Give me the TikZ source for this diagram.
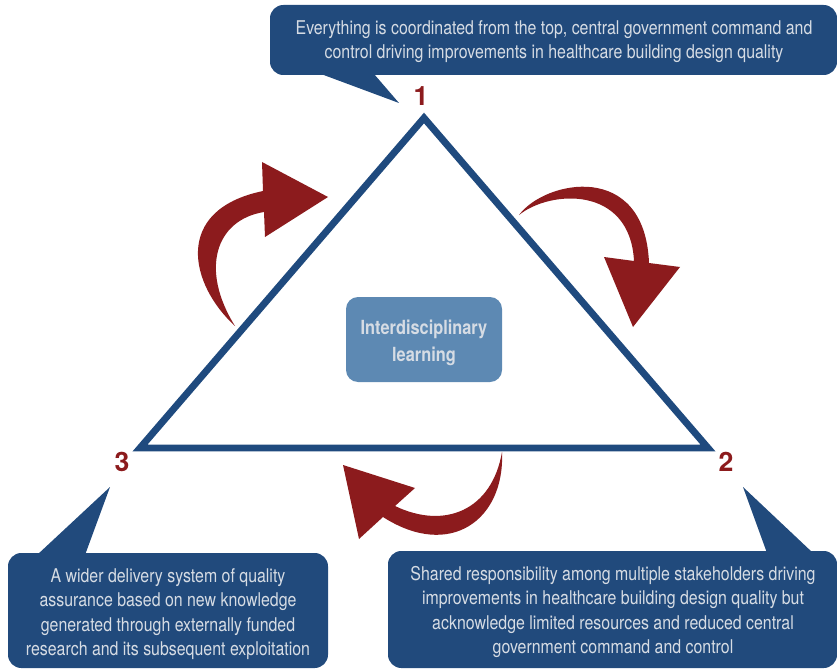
\documentclass[tikz,border=0pt]{standalone}
\usepackage{fontspec}
\setmainfont{TeX Gyre Heros}[FakeStretch=0.84]
\newfontfamily\numfont{TeX Gyre Heros}
\definecolor{boxblue}{RGB}{33,74,124}
\definecolor{lineblue}{RGB}{31,74,126}
\definecolor{midblue}{RGB}{93,137,179}
\definecolor{textgray}{RGB}{214,220,228}
\definecolor{arrowred}{RGB}{140,27,29}
\tikzset{
  callout/.style={text=textgray, align=center,
    font=\fontsize{14.2}{18.2}\selectfont, inner sep=0pt},
  hub/.style={text=textgray, align=center,
    font=\fontsize{14.6}{20.2}\selectfont\bfseries, inner sep=0pt},
  corner/.style={text=arrowred, font=\numfont\fontsize{20}{20}\selectfont\bfseries, inner sep=0pt}
}
\begin{document}
\begin{tikzpicture}[x=0.75pt, y=-0.75pt]
        \useasboundingbox (0,0) rectangle (837,670);
        % triangle
        \coordinate (T) at (424, 118);
        \coordinate (R) at (708, 448);
        \coordinate (L) at (140, 448);
        \draw[lineblue, line width=5.2pt, miter limit=10] (T) -- (R) -- (L) -- cycle;
        \node[corner] (n1) at (421, 96) {1};
        \node[corner] (n2) at (726, 462) {2};
        \node[corner] (n3) at (122, 462) {3};
        % centre
        \fill[midblue, rounded corners=9pt] (346, 297) rectangle (502, 382);
        \node[hub] (hub) at (424, 343) {Interdisciplinary\\learning};
        % callouts
        \fill[boxblue] (321, 74) -- (399, 103) -- (374, 74) -- cycle;
        \fill[boxblue, rounded corners=10pt] (270, 5) rectangle (837, 75);
        \node[callout] (top) at (554, 41.5)
            {Everything is coordinated from the top, central government command and\\
             control driving improvements in healthcare building design quality};
        \fill[boxblue] (37, 555) -- (110, 487) -- (85, 555) -- cycle;
        \fill[boxblue, rounded corners=10pt] (8, 553) rectangle (328, 668);
        \node[callout] (left) at (168, 614)
            {A wider delivery system of quality\\assurance based on new knowledge\\
             generated through externally funded\\research and its subsequent exploitation};
        \fill[boxblue] (767, 553) -- (743, 487) -- (813, 553) -- cycle;
        \fill[boxblue, rounded corners=10pt] (388, 551) rectangle (837, 668);
        \node[callout] (right) at (613, 612)
            {Shared responsibility among multiple stakeholders driving\\
             improvements in healthcare building design quality but\\
             acknowledge limited resources and reduced central\\
             government command and control};
        % arrows
        \fill[arrowred] (235, 326) .. controls (190, 285) and (172, 210) .. (263, 191)
            -- (262, 162) -- (328, 197) -- (265, 237) -- (264, 212)
            .. controls (215, 220) and (200, 270) .. (235, 326) -- cycle;
        \fill[arrowred] (519, 215) .. controls (545, 180) and (645, 160) .. (649, 263)
            -- (680, 267) -- (633, 327) -- (604, 257) -- (634, 261)
            .. controls (630, 185) and (550, 190) .. (519, 215) -- cycle;
        \fill[arrowred] (502, 452) .. controls (505, 520) and (450, 560) .. (383, 517)
            -- (359, 539) -- (343, 465) -- (415, 488) -- (395, 506)
            .. controls (445, 530) and (492, 510) .. (502, 452) -- cycle;
    \end{tikzpicture}
\end{document}
